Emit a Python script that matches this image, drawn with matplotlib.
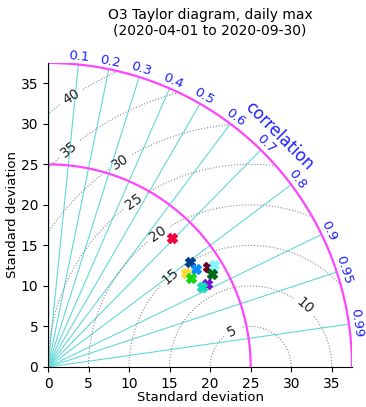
import numpy as np
import matplotlib
matplotlib.use('Agg')
import matplotlib.pyplot as plt

# observed std and axis limit
obs_std = 25.0
max_std = 37.5

# model stats (std, correlation) and marker colours
model_std = [22.01, 21.80, 21.89, 20.55, 20.72, 23.32, 24.03, 23.19, 22.12, 21.35]
model_corr = [0.693, 0.803, 0.834, 0.827, 0.849, 0.848, 0.852, 0.870, 0.885, 0.888]
model_colors = ['#f0003c', '#003f8c', '#0a8cff', '#ffd83a', '#18d418',
                '#6a0020', '#8af5ff', '#006818', '#7a10d8', '#10d8b8']

corr_ticks = [0.1, 0.2, 0.3, 0.4, 0.5, 0.6, 0.7, 0.8, 0.9, 0.95, 0.99]
corr_labels = ['0.1', '0.2', '0.3', '0.4', '0.5', '0.6', '0.7', '0.8', '0.9', '0.95', '0.99']
rmsd_levels = [5, 10, 15, 20, 25, 30, 35, 40]
std_ticks = [0, 5, 10, 15, 20, 25, 30, 35]

fig = plt.figure(figsize=(3.66, 4.07), dpi=100)
ax = fig.add_axes([48/366, 40/407, 304/366, 304/407])

# correlation rays
for c in corr_ticks:
    th = np.arccos(c)
    ax.plot([0, max_std*np.cos(th)], [0, max_std*np.sin(th)], color='#62d8d8', lw=0.8, zorder=1)
ax.plot([0, 0], [0, max_std], color='#2aa8a8', lw=1.0, zorder=1)

# rmsd contours centred on the observation
th = np.linspace(0, np.pi/2, 300)
rr = np.linspace(0, max_std, 300)
TH, RR = np.meshgrid(th, rr)
X = RR*np.cos(TH)
Y = RR*np.sin(TH)
Z = np.sqrt((X - obs_std)**2 + Y**2)
cs = ax.contour(X, Y, Z, levels=rmsd_levels, colors='#8c8c8c', linestyles=':', linewidths=0.8, zorder=1)
ax.clabel(cs, fmt='%d', fontsize=10, colors='#222222', inline=True,
          manual=[(22.7, 4.4), (31.7, 7.6), (15.0, 11.3), (13.6, 16.4),
                  (10.5, 20.6), (8.9, 25.4), (2.5, 27.0), (2.7, 33.5)])

# std arcs
for r in [obs_std, max_std]:
    ax.plot(r*np.cos(th), r*np.sin(th), color='#ff44ff', lw=1.6, zorder=2)

# correlation labels
for c, lab in zip(corr_ticks, corr_labels):
    t = np.arccos(c)
    ax.text(38.5*np.cos(t), 38.5*np.sin(t), lab, color='#2020ff', fontsize=9.5,
            rotation=np.degrees(t) - 90, ha='center', va='center', rotation_mode='anchor',
            clip_on=False)
ax.text(40.3*np.cos(np.pi/4), 40.3*np.sin(np.pi/4), 'correlation', color='#2020ff',
        fontsize=12, rotation=-45, ha='center', va='center', rotation_mode='anchor', clip_on=False)

# models
for s, c, col in zip(model_std, model_corr, model_colors):
    t = np.arccos(c)
    ax.plot(s*np.cos(t), s*np.sin(t), marker='X', ms=7, color=col, mec=col, ls='none',
            zorder=5, clip_on=False)

ax.set_xlim(0, max_std)
ax.set_ylim(0, max_std)
ax.set_aspect('equal')
ax.set_xticks(std_ticks)
ax.set_yticks(std_ticks)
ax.tick_params(labelsize=10)
ax.spines['top'].set_visible(False)
ax.spines['right'].set_visible(False)
ax.set_xlabel('Standard deviation', fontsize=9.5, labelpad=0.5)
ax.set_ylabel('Standard deviation', fontsize=9.5, labelpad=1)

fig.text(210/366, 1 - 8/407, 'O3 Taylor diagram, daily max\n(2020-04-01 to 2020-09-30)',
         ha='center', va='top', fontsize=10, linespacing=1.1)

fig.savefig('out.png', dpi=100)
